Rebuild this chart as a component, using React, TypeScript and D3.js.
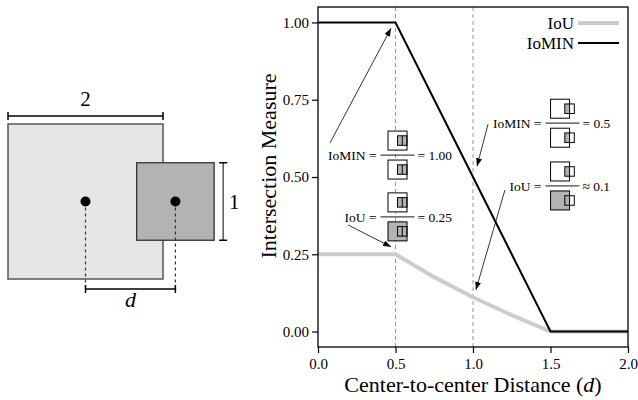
import React, { useEffect, useRef } from 'react';
import * as d3 from 'd3';

// curves
const distance = [0, 0.5, 0.75, 1.0, 1.25, 1.5, 2.0];
const iouValues = [0.25, 0.25, 0.176, 0.111, 0.053, 0, 0];
const iominValues = [1, 1, 0.75, 0.5, 0.25, 0, 0];
const xTicks = [0, 0.5, 1, 1.5, 2];
const yTicks = [0, 0.25, 0.5, 0.75, 1];
const guideDistances = [0.5, 1.0];
const seriesNames = ['IoU', 'IoMIN'];

// annotations (anchors given in data space)
const annotationDistance = [0.5, 0.5, 1.0, 1.0];
const annotationMeasure = ['IoMIN', 'IoU', 'IoMIN', 'IoU'];
const annotationValue = ['= 1.00', '= 0.25', '= 0.5', '\u2248 0.1'];
const annotationAnchor = [[0.513, 0.571], [0.513, 0.371], [1.577, 0.674], [1.577, 0.471]];
const arrowFrom = [[0.077, 0.61], [0.194, 0.345], [1.097, 0.671], [1.206, 0.458]];
const arrowTo = [[0.471, 0.981], [0.471, 0.274], [1.026, 0.535], [1.019, 0.135]];

// schematic on the left (units)
const bigSide = 2;
const smallSide = 1;
const schematicDistance = 1.16;

const FONT = '"Liberation Serif", "DejaVu Serif", serif';
const GRAY = '#b3b3b3';

const App = () => {
  const svgRef = useRef<SVGSVGElement | null>(null);

  useEffect(() => {
    document.body.style.margin = '0';
    const svg = d3.select(svgRef.current);
    svg.selectAll('*').remove();
    svg.style('font-family', FONT);

    const defs = svg.append('defs');
    defs
      .append('marker')
      .attr('id', 'arrow')
      .attr('markerUnits', 'userSpaceOnUse')
      .attr('markerWidth', 9)
      .attr('markerHeight', 6)
      .attr('refX', 8)
      .attr('refY', 3)
      .attr('orient', 'auto')
      .append('path')
      .attr('d', 'M0,0 L8,3 L0,6 z')
      .attr('fill', 'black');

    // ---------- schematic ----------
    const sx = d3.scaleLinear().domain([-bigSide / 2, bigSide / 2]).range([8, 163]);
    const sy = d3.scaleLinear().domain([-bigSide / 2, bigSide / 2]).range([124, 279]);
    const u = sx(1) - sx(0);
    const sch = svg.append('g');
    const dd = schematicDistance;

    sch
      .append('rect')
      .attr('x', sx(-bigSide / 2))
      .attr('y', sy(-bigSide / 2))
      .attr('width', bigSide * u)
      .attr('height', bigSide * u)
      .attr('fill', '#e6e6e6')
      .attr('stroke', '#555')
      .attr('stroke-width', 1.5);
    sch
      .append('rect')
      .attr('x', sx(dd - smallSide / 2))
      .attr('y', sy(-smallSide / 2))
      .attr('width', smallSide * u)
      .attr('height', smallSide * u)
      .attr('fill', GRAY)
      .attr('stroke', '#333')
      .attr('stroke-width', 1.3);

    const bottomY = sy(bigSide / 2) + 10;
    [0, dd].forEach(c => {
      sch
        .append('line')
        .attr('x1', sx(c))
        .attr('x2', sx(c))
        .attr('y1', sy(0))
        .attr('y2', bottomY)
        .attr('stroke', '#333')
        .attr('stroke-width', 1.2)
        .attr('stroke-dasharray', '3,3');
      sch.append('circle').attr('cx', sx(c)).attr('cy', sy(0)).attr('r', 5).attr('fill', 'black');
    });

    const hBracket = (x1: number, x2: number, y: number, color: string) => {
      sch.append('line').attr('x1', x1).attr('x2', x2).attr('y1', y).attr('y2', y).attr('stroke', color).attr('stroke-width', 1.5);
      [x1, x2].forEach(x =>
        sch.append('line').attr('x1', x).attr('x2', x).attr('y1', y - 4).attr('y2', y + 4).attr('stroke', 'black').attr('stroke-width', 1.5)
      );
    };
    hBracket(sx(0), sx(dd), bottomY, 'black');
    hBracket(sx(-bigSide / 2), sx(bigSide / 2), sy(-bigSide / 2) - 8, 'black');

    const vx = sx(dd + smallSide / 2) + 9;
    sch.append('line').attr('x1', vx).attr('x2', vx).attr('y1', sy(-smallSide / 2)).attr('y2', sy(smallSide / 2)).attr('stroke', '#555').attr('stroke-width', 1.5);
    [sy(-smallSide / 2), sy(smallSide / 2)].forEach(y =>
      sch.append('line').attr('x1', vx - 4).attr('x2', vx + 4).attr('y1', y).attr('y2', y).attr('stroke', 'black').attr('stroke-width', 1.5)
    );

    sch.append('text').attr('x', sx(0)).attr('y', 106).attr('text-anchor', 'middle').style('font-size', '21px').text(String(bigSide));
    sch.append('text').attr('x', vx + 11).attr('y', sy(0)).attr('dy', '0.35em').attr('text-anchor', 'middle').style('font-size', '21px').text(String(smallSide));
    sch
      .append('text')
      .attr('x', sx(dd / 2))
      .attr('y', bottomY + 18)
      .attr('text-anchor', 'middle')
      .style('font-size', '22px')
      .style('font-style', 'italic')
      .text('d');

    // ---------- chart ----------
    const x = d3.scaleLinear().domain([0, 2]).range([318, 628]);
    const y = d3.scaleLinear().domain([-0.05, 1.05]).range([347, 7]);
    const g = svg.append('g');

    guideDistances.forEach(v => {
      g.append('line')
        .attr('x1', x(v))
        .attr('x2', x(v))
        .attr('y1', y(1.05))
        .attr('y2', y(-0.05))
        .attr('stroke', '#999')
        .attr('stroke-width', 1)
        .attr('stroke-dasharray', '4,3');
    });

    const pts = (vals: number[]) => distance.map((d, i) => [d, vals[i]] as [number, number]);
    const line = d3
      .line<[number, number]>()
      .x(d => x(d[0]))
      .y(d => y(d[1]));

    g.append('path').attr('d', line(pts(iouValues))).attr('fill', 'none').attr('stroke', '#cccccc').attr('stroke-width', 4);
    g.append('path').attr('d', line(pts(iominValues))).attr('fill', 'none').attr('stroke', 'black').attr('stroke-width', 2);

    // axes
    const xAxis = g
      .append('g')
      .attr('transform', `translate(0,${y(-0.05)})`)
      .call(d3.axisBottom(x).tickValues(xTicks).tickFormat(d3.format('.1f')).tickSize(6).tickPadding(5).tickSizeOuter(0));
    const yAxis = g
      .append('g')
      .attr('transform', `translate(${x(0)},0)`)
      .call(d3.axisLeft(y).tickValues(yTicks).tickFormat(d3.format('.2f')).tickSize(6).tickPadding(3).tickSizeOuter(0));
    [xAxis, yAxis].forEach(a => {
      a.selectAll('text').style('font-size', '15px').style('font-family', FONT).attr('fill', 'black');
      a.selectAll('line').attr('stroke-width', 1.2);
      a.select('.domain').remove();
    });

    // frame
    g.append('rect')
      .attr('x', x(0))
      .attr('y', y(1.05))
      .attr('width', x(2) - x(0))
      .attr('height', y(-0.05) - y(1.05))
      .attr('fill', 'none')
      .attr('stroke', 'black')
      .attr('stroke-width', 1.3);

    g.append('text')
      .attr('x', (x(0) + x(2)) / 2)
      .attr('y', 392)
      .attr('text-anchor', 'middle')
      .style('font-size', '22px')
      .call(t => {
        t.append('tspan').text('Center-to-center Distance (');
        t.append('tspan').style('font-style', 'italic').text('d');
        t.append('tspan').text(')');
      });
    g.append('text')
      .attr('transform', `translate(276,166) rotate(-90)`)
      .attr('text-anchor', 'middle')
      .style('font-size', '22px')
      .text('Intersection Measure');

    // legend
    const legendColors = ['#cccccc', 'black'];
    const legendWidths = [4, 2];
    seriesNames.forEach((name, i) => {
      const ly = 23 + i * 20;
      g.append('line').attr('x1', x(2) - 50).attr('x2', x(2) - 9).attr('y1', ly).attr('y2', ly).attr('stroke', legendColors[i]).attr('stroke-width', legendWidths[i]);
      g.append('text').attr('x', x(2) - 54).attr('y', ly).attr('dy', '0.35em').attr('text-anchor', 'end').style('font-size', '17px').text(name);
    });

    // annotations
    const iu = 9.5;
    const icon = (cx: number, top: number, d: number, union: boolean) => {
      const left = Math.min(-1, d - 0.5);
      const right = Math.max(1, d + 0.5);
      const o = cx - ((left + right) / 2) * iu;
      const ig = g.append('g');
      ig.append('rect').attr('x', o - iu).attr('y', top).attr('width', 2 * iu).attr('height', 2 * iu).attr('fill', union ? GRAY : 'white');
      const ix1 = o + (d - 0.5) * iu;
      const ix2 = o + Math.min(1, d + 0.5) * iu;
      ig.append('rect').attr('x', ix1).attr('y', top + 0.5 * iu).attr('width', ix2 - ix1).attr('height', iu).attr('fill', GRAY);
      ig.append('rect').attr('x', o - iu).attr('y', top).attr('width', 2 * iu).attr('height', 2 * iu).attr('fill', 'none').attr('stroke', 'black').attr('stroke-width', 1);
      ig.append('rect').attr('x', ix1).attr('y', top + 0.5 * iu).attr('width', iu).attr('height', iu).attr('fill', 'none').attr('stroke', 'black').attr('stroke-width', 1);
      if (d + 0.5 <= 1) {
        ig.append('line').attr('x1', o + d * iu).attr('x2', o + d * iu).attr('y1', top + 0.5 * iu).attr('y2', top + 1.5 * iu).attr('stroke', 'black').attr('stroke-width', 1);
      }
    };

    annotationMeasure.forEach((m, i) => {
      const cx = x(annotationAnchor[i][0]);
      const cy = y(annotationAnchor[i][1]);
      const d = annotationDistance[i];
      icon(cx, cy - 5 - 2 * iu, d, false);
      icon(cx, cy + 5, d, m === 'IoU');
      g.append('line').attr('x1', cx - 17).attr('x2', cx + 17).attr('y1', cy).attr('y2', cy).attr('stroke', '#444').attr('stroke-width', 1.2);
      g.append('text').attr('x', cx - 21).attr('y', cy).attr('dy', '0.35em').attr('text-anchor', 'end').style('font-size', '13.5px').text(`${m} =`);
      g.append('text').attr('x', cx + 20).attr('y', cy).attr('dy', '0.35em').style('font-size', '13.5px').text(annotationValue[i]);
      g.append('line')
        .attr('x1', x(arrowFrom[i][0]))
        .attr('y1', y(arrowFrom[i][1]))
        .attr('x2', x(arrowTo[i][0]))
        .attr('y2', y(arrowTo[i][1]))
        .attr('stroke', 'black')
        .attr('stroke-width', 0.8)
        .attr('marker-end', 'url(#arrow)');
    });
  }, []);

  return <svg ref={svgRef} width={638} height={400} style={{ display: 'block', background: 'white' }} />;
};

export default App;
